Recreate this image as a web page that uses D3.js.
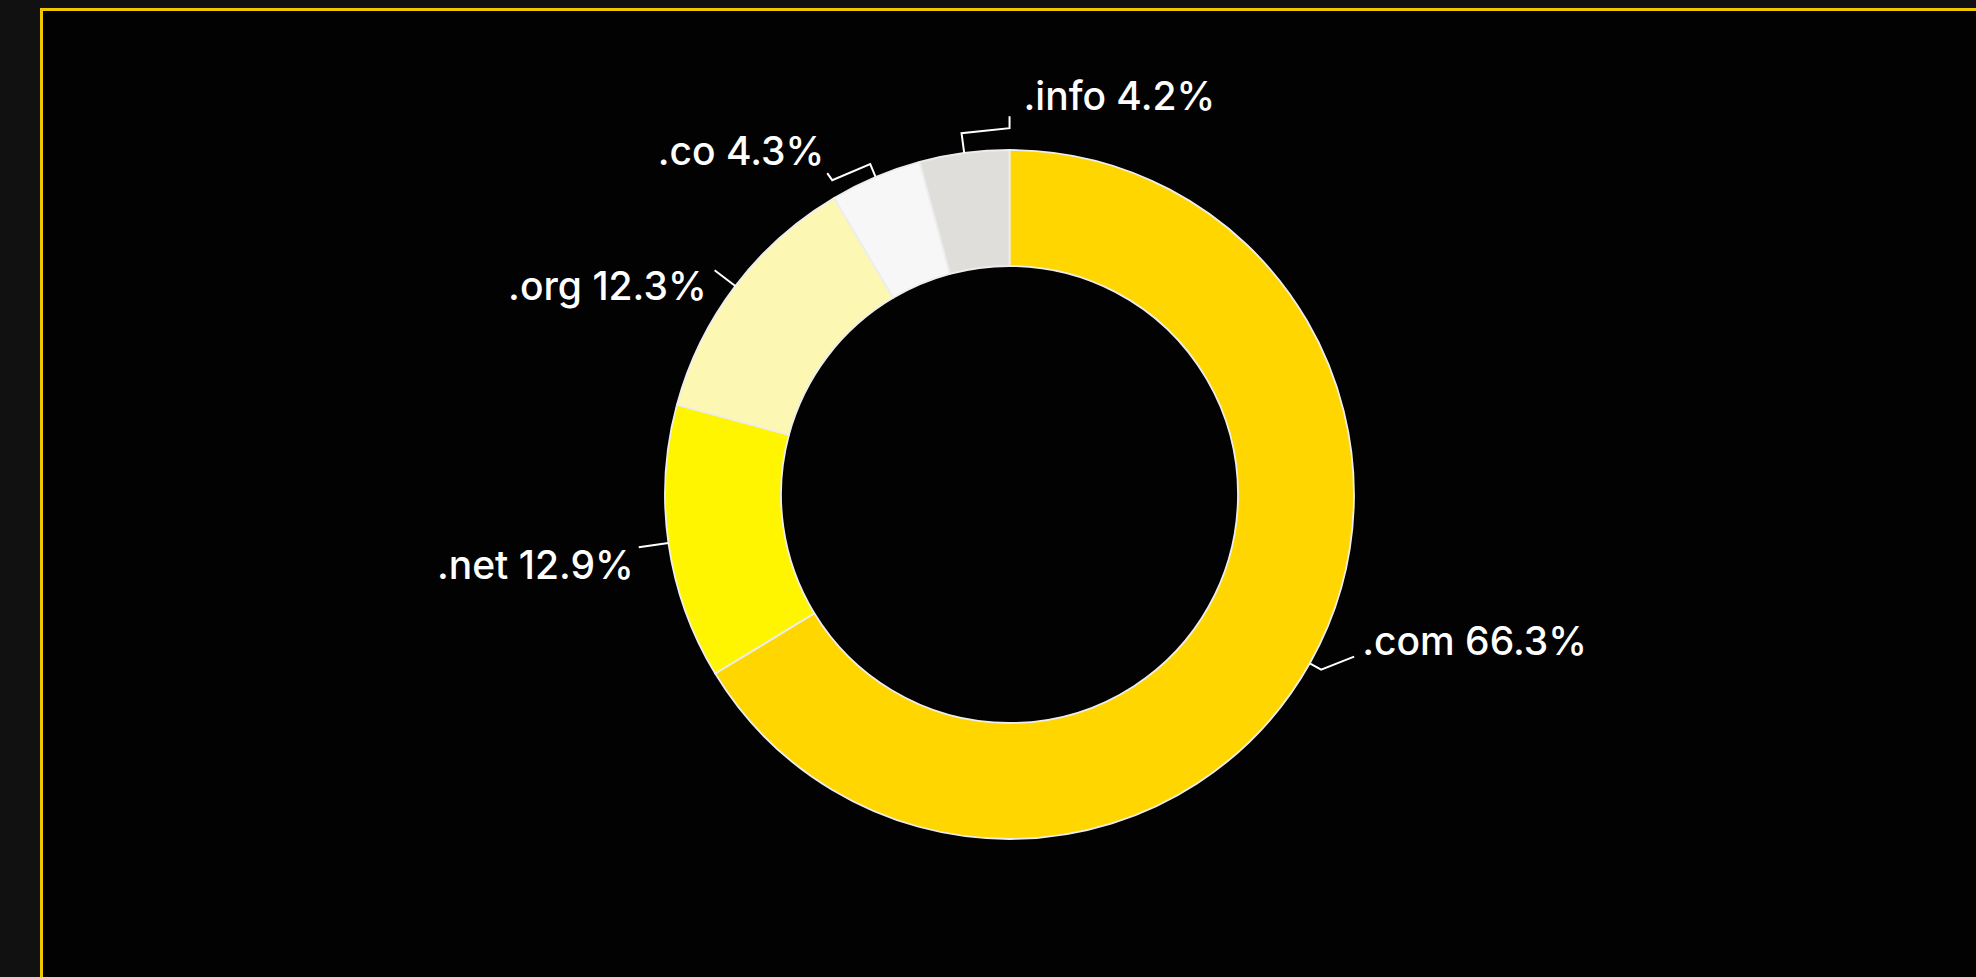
<!DOCTYPE html>
<html>
<head>
<meta charset="utf-8">
<script src="https://cdn.jsdelivr.net/npm/d3@7"></script>
<style>
  html, body { margin: 0; padding: 0; background: #111111; overflow: hidden; }
  svg { display: block; }
</style>
</head>
<body>
<svg id="chart" width="1976" height="977"></svg>
<script>
// Share of registered domains by top-level domain (%)
const domains = [".com", ".net", ".org", ".co", ".info"];
const shares = [66.3, 12.9, 12.3, 4.3, 4.2];
const sliceColors = ["#FFD600", "#FFF500", "#FCF8B3", "#F7F7F7", "#DFDEDB"];

// Leader layout per slice: radial tick length, extra bend points (relative steps),
// label offset from the last tick point and text anchor.
const leaderLayout = [
  { out: 13, steps: [[33, -13]], label: [8, -2], anchor: "start" },
  { out: 30, steps: [], label: [-5, 32], anchor: "end" },
  { out: 26, steps: [], label: [-8, 30], anchor: "end" },
  { out: 14, steps: [[-38, 16], [-5, -7]], label: [-3, -8], anchor: "end" },
  { out: 20, steps: [[48, -5], [0, -12]], label: [14, -6], anchor: "start" }
];

const W = 1976, H = 977;
const cx = 1009.5, cy = 494.5;
const outerR = 344.5, innerR = 228.5;

const svg = d3.select("#chart");

// page background and framed card
svg.append("rect").attr("width", W).attr("height", H).attr("fill", "#111111");
svg.append("rect")
  .attr("x", 41.5).attr("y", 9.5)
  .attr("width", W + 40).attr("height", H + 40)
  .attr("fill", "#020202")
  .attr("stroke", "#F0C800")
  .attr("stroke-width", 3);

const rows = domains.map((d, i) => ({ name: d, value: shares[i], color: sliceColors[i], layout: leaderLayout[i] }));

const pie = d3.pie().value(d => d.value).sort(null);
const arcs = pie(rows);

const arc = d3.arc().innerRadius(innerR).outerRadius(outerR);

const g = svg.append("g").attr("transform", `translate(${cx},${cy})`);

g.selectAll("path.slice")
  .data(arcs)
  .join("path")
  .attr("class", "slice")
  .attr("d", arc)
  .attr("fill", d => d.data.color)
  .attr("stroke", "#EDEDED")
  .attr("stroke-width", 1.8)
  .attr("stroke-linejoin", "round");

const polar = (r, a) => [Math.sin(a) * r, -Math.cos(a) * r];

arcs.forEach(d => {
  const mid = (d.startAngle + d.endAngle) / 2;
  const L = d.data.layout;
  const pts = [polar(outerR, mid), polar(outerR + L.out, mid)];
  L.steps.forEach(([dx, dy]) => {
    const last = pts[pts.length - 1];
    pts.push([last[0] + dx, last[1] + dy]);
  });
  const end = pts[pts.length - 1];

  g.append("path")
    .attr("d", d3.line()(pts))
    .attr("fill", "none")
    .attr("stroke", "#FFFFFF")
    .attr("stroke-width", 2)
    .attr("stroke-linejoin", "miter");

  g.append("text")
    .attr("x", end[0] + L.label[0])
    .attr("y", end[1] + L.label[1])
    .attr("text-anchor", L.anchor)
    .attr("fill", "#FFFFFF")
    .attr("font-family", "Inter, 'Open Sans', sans-serif")
    .attr("font-size", 39)
    .attr("font-weight", 500)
    .text(`${d.data.name} ${d3.format(".1f")(d.data.value)}%`);
});
</script>
</body>
</html>
